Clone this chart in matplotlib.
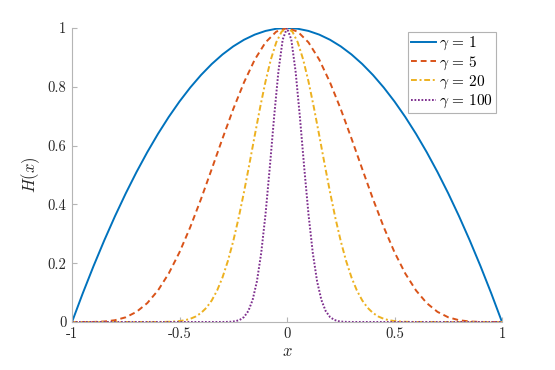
import matplotlib
matplotlib.use("Agg")
import matplotlib.pyplot as plt

plt.rcParams['mathtext.fontset'] = 'cm'
plt.rcParams['font.family'] = 'cmr10'
plt.rcParams['axes.unicode_minus'] = False
plt.rcParams['axes.formatter.use_mathtext'] = True

# ---- data ----
x_a = [-1.0, -0.95, -0.9, -0.85, -0.8, -0.75, -0.7, -0.65, -0.6, -0.55, -0.5, -0.45, -0.4, -0.35,
       -0.3, -0.25, -0.2, -0.15, -0.1, -0.05, 0.0, 0.05, 0.1, 0.15, 0.2, 0.25, 0.3, 0.35, 0.4, 0.45,
       0.5, 0.55, 0.6, 0.65, 0.7, 0.75, 0.8, 0.85, 0.9, 0.95, 1.0]
h_g1 = [0.0, 0.0975, 0.19, 0.2775, 0.36, 0.4375, 0.51, 0.5775, 0.64, 0.6975, 0.75, 0.7975, 0.84, 0.8775,
        0.91, 0.9375, 0.96, 0.9775, 0.99, 0.9975, 1.0, 0.9975, 0.99, 0.9775, 0.96, 0.9375, 0.91, 0.8775,
        0.84, 0.7975, 0.75, 0.6975, 0.64, 0.5775, 0.51, 0.4375, 0.36, 0.2775, 0.19, 0.0975, 0.0]
h_g5 = [0.0, 0.0, 0.0002, 0.0017, 0.0061, 0.016, 0.0345, 0.0642, 0.1074, 0.1651, 0.2373, 0.3226, 0.4182,
        0.5203, 0.624, 0.7242, 0.815, 0.8925, 0.951, 0.9876, 1.0, 0.9876, 0.951, 0.8925, 0.815, 0.7242,
        0.624, 0.5203, 0.4182, 0.3226, 0.2373, 0.1651, 0.1074, 0.0642, 0.0345, 0.016, 0.0061, 0.0017,
        0.0002, 0.0, 0.0]

x_b = [-1.0, -0.6, -0.575, -0.55, -0.525, -0.5, -0.475, -0.45, -0.425, -0.4, -0.375, -0.35, -0.325,
       -0.3, -0.275, -0.25, -0.225, -0.2, -0.175, -0.15, -0.125, -0.1, -0.075, -0.05, -0.025, 0.0,
       0.025, 0.05, 0.075, 0.1, 0.125, 0.15, 0.175, 0.2, 0.225, 0.25, 0.275, 0.3, 0.325, 0.35, 0.375,
       0.4, 0.425, 0.45, 0.475, 0.5, 0.525, 0.55, 0.575, 0.6, 1.0]
h_g20 = [0.0, 0.0001, 0.0003, 0.0007, 0.0016, 0.0032, 0.006, 0.0108, 0.0186, 0.0306, 0.0483, 0.0733,
         0.1073, 0.1516, 0.2075, 0.2751, 0.3538, 0.442, 0.5368, 0.6344, 0.7298, 0.8179, 0.8933, 0.9512,
         0.9876, 1.0, 0.9876, 0.9512, 0.8933, 0.8179, 0.7298, 0.6344, 0.5368, 0.442, 0.3538, 0.2751,
         0.2075, 0.1516, 0.1073, 0.0733, 0.0483, 0.0306, 0.0186, 0.0108, 0.006, 0.0032, 0.0016, 0.0007,
         0.0003, 0.0001, 0.0]

x_c = [-1.0, -0.3, -0.28, -0.26, -0.24, -0.22, -0.2, -0.18, -0.16, -0.14, -0.12, -0.1, -0.08, -0.06,
       -0.04, -0.02, 0.0, 0.02, 0.04, 0.06, 0.08, 0.1, 0.12, 0.14, 0.16, 0.18, 0.2, 0.22, 0.24, 0.26,
       0.28, 0.3, 1.0]
h_g100 = [0.0, 0.0001, 0.0003, 0.0009, 0.0027, 0.007, 0.0169, 0.0371, 0.0748, 0.1381, 0.2345, 0.366,
          0.5262, 0.6972, 0.852, 0.9608, 1.0, 0.9608, 0.852, 0.6972, 0.5262, 0.366, 0.2345, 0.1381,
          0.0748, 0.0371, 0.0169, 0.007, 0.0027, 0.0009, 0.0003, 0.0001, 0.0]

labels = [r'$\gamma\,=\,1$', r'$\gamma\,=\,5$', r'$\gamma\,=\,20$', r'$\gamma\,=\,100$']
x_ticks = [-1, -0.5, 0, 0.5, 1]
x_ticklabels = ['-1', '-0.5', '0', '0.5', '1']
y_ticks = [0, 0.2, 0.4, 0.6, 0.8, 1]
y_ticklabels = ['0', '0.2', '0.4', '0.6', '0.8', '1']

colors = ['#0072BD', '#D95319', '#EDB120', '#7E2F8E']

fig = plt.figure(figsize=(5.55, 3.70), dpi=100)
ax = fig.add_axes([72/555, 1-322/370, (502-72)/555, (322-28)/370])

lw = 1.4
ax.plot(x_a, h_g1, color=colors[0], lw=lw, ls='-', label=labels[0])
ax.plot(x_a, h_g5, color=colors[1], lw=lw, ls=(0, (3.0, 2.0)), label=labels[1])
ax.plot(x_b, h_g20, color=colors[2], lw=lw, ls=(0, (3.0, 1.4, 1.0, 1.4)), label=labels[2])
ax.plot(x_c, h_g100, color=colors[3], lw=lw, ls=(0, (0.9, 0.9)), label=labels[3])

ax.set_xlim(-1, 1)
ax.set_ylim(0, 1)
ax.set_xticks(x_ticks)
ax.set_xticklabels(x_ticklabels)
ax.set_yticks(y_ticks)
ax.set_yticklabels(y_ticklabels)
for sp in ['top', 'right']:
    ax.spines[sp].set_visible(False)
for sp in ['left', 'bottom']:
    ax.spines[sp].set_color('#b5b5b5')
    ax.spines[sp].set_linewidth(0.8)
ax.tick_params(direction='in', length=3.5, width=0.8, color='#b5b5b5', labelcolor='#262626',
               labelsize=10.5, pad=4)
ax.set_xlabel(r'$x$', fontsize=12, color='#262626', labelpad=2)
ax.set_ylabel(r'$H(x)$', fontsize=12, color='#262626', labelpad=4)

leg = ax.legend(loc='upper right', bbox_to_anchor=(1.0 - 6/430, 1.0 - 4/294), fontsize=11,
                frameon=True, fancybox=False, handlelength=1.6, handletextpad=0.2,
                borderpad=0.2, labelspacing=0.12, borderaxespad=0)
leg.get_frame().set_edgecolor('#a0a0a0')
leg.get_frame().set_linewidth(0.8)

fig.savefig('out.png', dpi=100)
